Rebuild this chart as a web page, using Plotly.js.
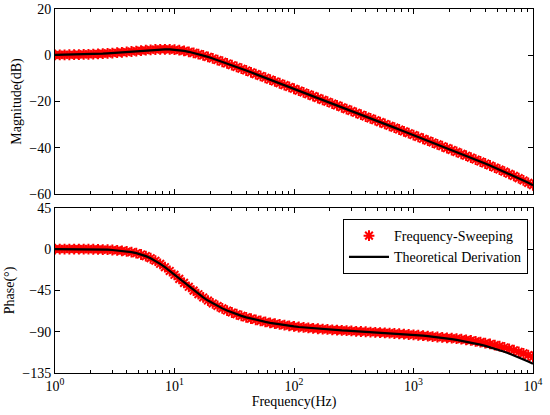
<!DOCTYPE html>
<html>
<head>
<meta charset="utf-8">
<script src="https://cdn.plot.ly/plotly-3.0.1.min.js"></script>
<style>html,body{margin:0;padding:0;background:#fff;}#chart{width:550px;height:415px;}</style>
</head>
<body>
<div id="chart"></div>
<script>
const freq = [1,1.096,1.202,1.318,1.445,1.585,1.738,1.905,2.089,2.291,2.512,2.754,3.020,3.311,3.631,3.981,4.365,4.786,5.248,5.754,6.310,6.918,7.586,8.318,9.120,
10,10.96,12.02,13.18,14.45,15.85,17.38,19.05,20.89,22.91,25.12,27.54,30.20,33.11,36.31,39.81,43.65,47.86,52.48,57.54,63.10,69.18,75.86,83.18,91.20,
100,109.6,120.2,131.8,144.5,158.5,173.8,190.5,208.9,229.1,251.2,275.4,302.0,331.1,363.1,398.1,436.5,478.6,524.8,575.4,631.0,691.8,758.6,831.8,912.0,
1000,1096,1202,1318,1445,1585,1738,1905,2089,2291,2512,2754,3020,3311,3631,3981,4365,4786,5248,5754,6310,6918,7586,8318,9120,10000];

const theoMag = [0.12,0.15,0.18,0.21,0.25,0.30,0.36,0.42,0.50,0.59,0.70,0.81,0.95,1.10,1.26,1.44,1.62,1.81,2.01,2.19,2.35,2.48,2.56,2.58,2.53,
2.40,2.18,1.88,1.49,1.02,0.49,-0.09,-0.72,-1.39,-2.09,-2.81,-3.54,-4.29,-5.05,-5.82,-6.59,-7.37,-8.16,-8.95,-9.73,-10.53,-11.32,-12.11,-12.91,-13.70,
-14.49,-15.29,-16.09,-16.89,-17.69,-18.49,-19.29,-20.09,-20.89,-21.69,-22.49,-23.29,-24.10,-24.90,-25.70,-26.50,-27.30,-28.10,-28.91,-29.71,-30.51,-31.31,-32.12,-32.92,-33.72,
-34.51,-35.32,-36.12,-36.93,-37.73,-38.54,-39.35,-40.16,-40.97,-41.78,-42.62,-43.45,-44.28,-45.11,-45.96,-46.81,-47.68,-48.57,-49.44,-50.34,-51.26,-52.18,-53.15,-54.14,-55.18,-56.22];

const sweepMag = [0.12,0.15,0.18,0.21,0.25,0.30,0.36,0.42,0.50,0.59,0.70,0.81,0.95,1.10,1.26,1.44,1.62,1.81,2.01,2.19,2.35,2.48,2.56,2.58,2.53,
2.40,2.18,1.88,1.49,1.02,0.49,-0.09,-0.72,-1.39,-2.09,-2.81,-3.54,-4.29,-5.05,-5.82,-6.59,-7.37,-8.16,-8.95,-9.73,-10.53,-11.32,-12.11,-12.91,-13.70,
-14.49,-15.29,-16.09,-16.89,-17.69,-18.49,-19.29,-20.09,-20.89,-21.69,-22.49,-23.29,-24.10,-24.90,-25.70,-26.50,-27.30,-28.10,-28.91,-29.71,-30.51,-31.31,-32.12,-32.92,-33.72,
-34.51,-35.32,-36.12,-36.93,-37.73,-38.54,-39.35,-40.16,-40.97,-41.78,-42.62,-43.45,-44.28,-45.11,-45.96,-46.81,-47.68,-48.57,-49.44,-50.34,-51.26,-52.18,-53.15,-54.14,-55.18,-56.22];

const theoPhase = [0.2,0.2,0.2,0.2,0.2,0.2,0.1,0.1,0.0,-0.1,-0.3,-0.5,-0.8,-1.2,-1.7,-2.4,-3.2,-4.3,-5.7,-7.5,-9.8,-12.5,-15.9,-19.6,-23.7,
-27.9,-32.3,-36.7,-41.0,-45.1,-49.0,-52.6,-56.0,-59.1,-61.9,-64.5,-66.9,-69.0,-70.9,-72.7,-74.3,-75.7,-77.0,-78.2,-79.3,-80.3,-81.2,-82.0,-82.8,-83.5,
-84.2,-84.8,-85.3,-85.8,-86.3,-86.7,-87.1,-87.5,-87.9,-88.2,-88.5,-88.8,-89.1,-89.5,-89.7,-90.0,-90.3,-90.6,-90.9,-91.2,-91.5,-91.9,-92.2,-92.6,-93.0,
-93.4,-93.8,-94.3,-94.8,-95.3,-95.9,-96.6,-97.3,-98.0,-98.8,-99.7,-100.7,-101.7,-102.9,-104.1,-105.4,-106.8,-108.4,-110.0,-111.8,-113.7,-115.7,-117.9,-120.1,-122.5,-124.9];

const sweepPhase = [0.2,0.2,0.2,0.2,0.2,0.2,0.1,0.1,0.0,-0.1,-0.3,-0.5,-0.8,-1.2,-1.7,-2.4,-3.2,-4.3,-5.7,-7.5,-9.8,-12.5,-15.9,-19.6,-23.7,
-27.9,-32.3,-36.7,-41.0,-45.1,-49.0,-52.6,-56.0,-59.1,-61.9,-64.5,-66.9,-69.0,-70.9,-72.7,-74.3,-75.7,-77.0,-78.2,-79.3,-80.3,-81.2,-82.0,-82.8,-83.5,
-84.2,-84.8,-85.3,-85.8,-86.3,-86.7,-87.1,-87.5,-87.9,-88.2,-88.5,-88.8,-89.1,-89.5,-89.7,-90.0,-90.3,-90.6,-90.9,-91.2,-91.5,-91.9,-92.2,-92.6,-93.0,
-93.4,-93.8,-94.3,-94.8,-95.3,-95.7,-96.2,-96.6,-97.0,-97.5,-98.1,-98.8,-99.5,-100.4,-101.3,-102.3,-103.3,-104.5,-105.7,-107.1,-108.6,-110.2,-111.9,-113.6,-115.5,-117.4];

const xTickVals = [1,10,100,1000,10000];
const xTickText = ['10<sup>0</sup>','10<sup>1</sup>','10<sup>2</sup>','10<sup>3</sup>','10<sup>4</sup>'];
const xMinorVals = [2,3,4,5,6,7,8,9,20,30,40,50,60,70,80,90,200,300,400,500,600,700,800,900,2000,3000,4000,5000,6000,7000,8000,9000];
const magTickVals = [-60,-40,-20,0,20];
const magTickText = ['\u221260','\u221240','\u221220','0','20'];
const phaseTickVals = [-135,-90,-45,0,45];
const phaseTickText = ['\u2212135','\u221290','\u221245','0','45'];

const sweepName = 'Frequency-Sweeping';
const theoName = 'Theoretical Derivation';

const FONT = 'Liberation Serif';

const sweepMarker = {symbol:'asterisk-open', size:9, color:'red', line:{color:'red', width:2}};

const traces = [
  {x:freq, y:sweepMag, xaxis:'x', yaxis:'y', type:'scatter', mode:'markers', marker:sweepMarker, name:sweepName, showlegend:false},
  {x:freq, y:theoMag, xaxis:'x', yaxis:'y', type:'scatter', mode:'lines', line:{color:'black', width:2.2}, name:theoName, showlegend:false},
  {x:freq, y:sweepPhase, xaxis:'x2', yaxis:'y2', type:'scatter', mode:'markers', marker:sweepMarker, name:sweepName},
  {x:freq, y:theoPhase, xaxis:'x2', yaxis:'y2', type:'scatter', mode:'lines', line:{color:'black', width:2.2}, name:theoName}
];

function xAxis(anchor, labels){
  return {
    type:'log', range:[0,4], anchor:anchor, domain:[0,1],
    tickmode:'array', tickvals:xTickVals, ticktext:xTickText,
    showticklabels:labels, ticks:'inside', ticklen:5, tickwidth:1, tickcolor:'black',
    mirror:'ticks', showline:true, linecolor:'black', linewidth:1,
    showgrid:false, zeroline:false,
    minor:{tickmode:'array', tickvals:xMinorVals, ticks:'inside', ticklen:3, tickwidth:1, tickcolor:'black', showgrid:false},
    tickfont:{family:FONT, size:14, color:'black'}
  };
}
function yAxis(anchor, domain, range, tv, tt, title){
  return {
    anchor:anchor, domain:domain, range:range,
    tickmode:'array', tickvals:tv, ticktext:tt,
    ticks:'inside', ticklen:5, tickwidth:1, tickcolor:'black',
    mirror:'ticks', showline:true, linecolor:'black', linewidth:1,
    showgrid:false, zeroline:false,
    tickfont:{family:FONT, size:14, color:'black'},
    title:{text:title, font:{family:FONT, size:14, color:'black'}, standoff:4}
  };
}

const xa2 = xAxis('y2', true);
xa2.title = {text:'Frequency(Hz)', font:{family:FONT, size:14, color:'black'}, standoff:2};

const layout = {
  width:550, height:415,
  margin:{l:55, r:17, t:9, b:42},
  paper_bgcolor:'white', plot_bgcolor:'white',
  font:{family:FONT, size:14, color:'black'},
  xaxis:xAxis('y', false),
  yaxis:yAxis('x', [0.4918,1], [-60,20], magTickVals, magTickText, 'Magnitude(dB)'),
  xaxis2:xa2,
  yaxis2:yAxis('x2', [0,0.4533], [-135,45], phaseTickVals, phaseTickText, 'Phase(\u00b0)'),
  showlegend:true,
  legend:{x:0.6025, y:0.423, xanchor:'left', yanchor:'top', bgcolor:'white', bordercolor:'black', borderwidth:1,
          font:{family:FONT, size:14, color:'black'}, tracegroupgap:0, itemwidth:40}
};

Plotly.newPlot('chart', traces, layout, {staticPlot:true, displayModeBar:false});
</script>
</body>
</html>
